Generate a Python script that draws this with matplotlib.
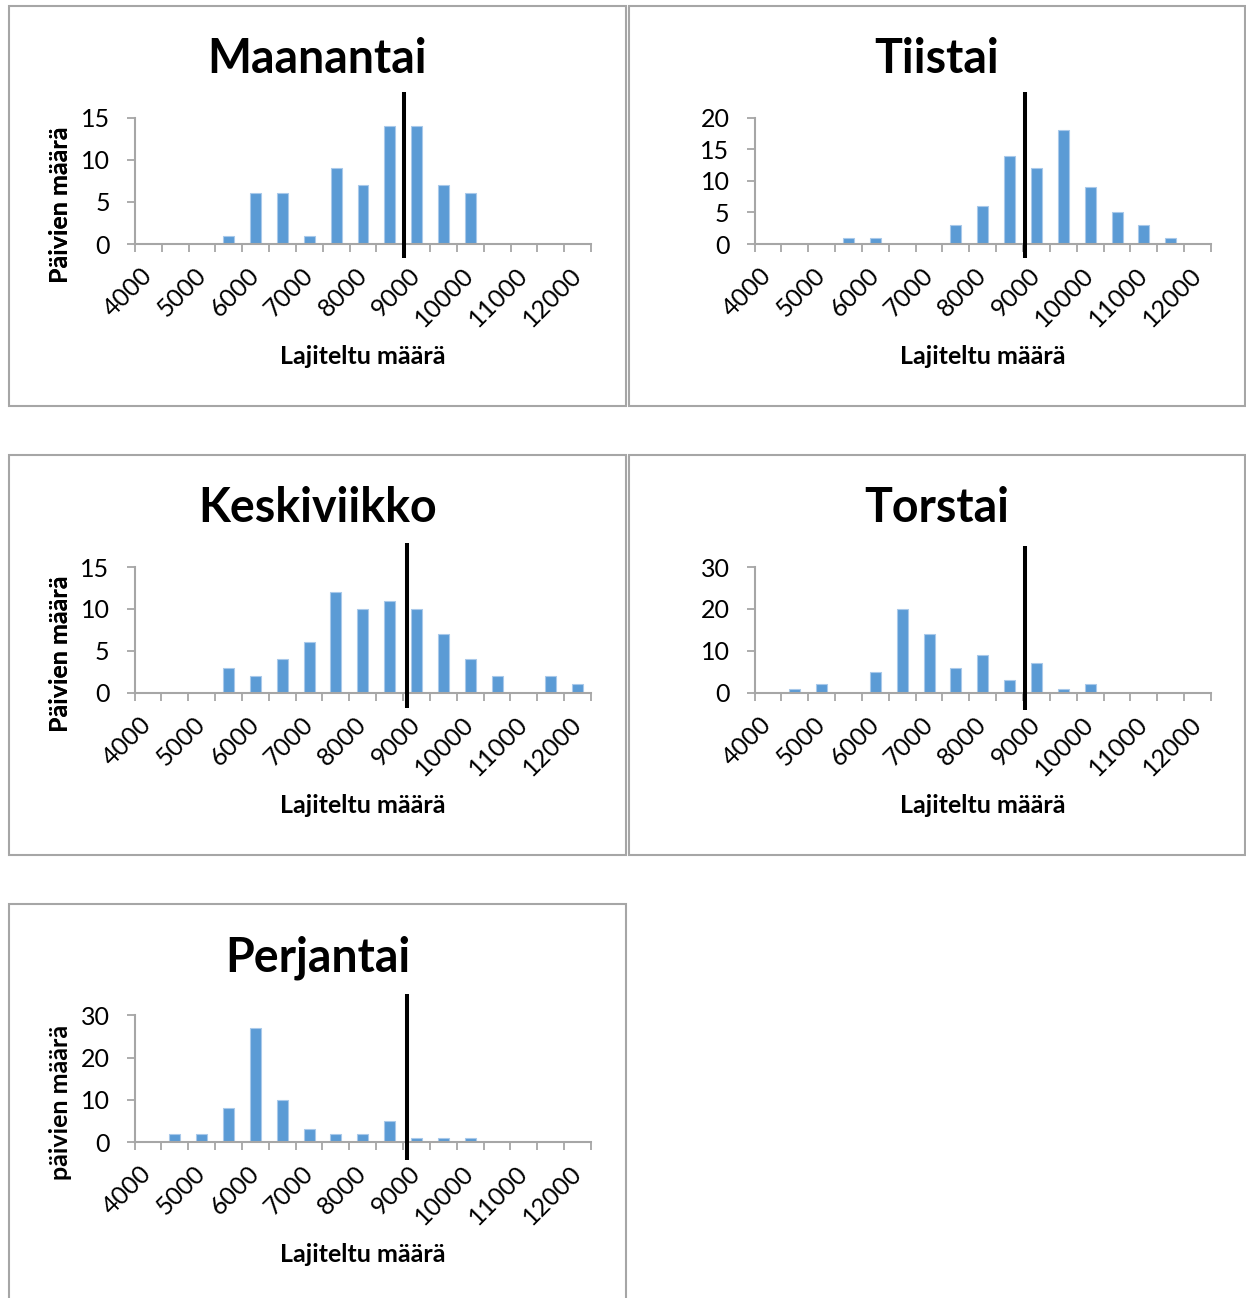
import matplotlib
matplotlib.use("Agg")
import matplotlib.pyplot as plt
from matplotlib.patches import Rectangle
import matplotlib.transforms as mtransforms

# ---------------- data ----------------
categories = [4000, 4500, 5000, 5500, 6000, 6500, 7000, 7500, 8000,
              8500, 9000, 9500, 10000, 10500, 11000, 11500, 12000]
tick_labels = ["4000", "", "5000", "", "6000", "", "7000", "", "8000",
               "", "9000", "", "10000", "", "11000", "", "12000"]

maanantai   = [0, 0, 0, 1, 6, 6, 1, 9, 7, 14, 14, 7, 6, 0, 0, 0, 0]
tiistai     = [0, 0, 0, 1, 1, 0, 0, 3, 6, 14, 12, 18, 9, 5, 3, 1, 0]
keskiviikko = [0, 0, 0, 3, 2, 4, 6, 12, 10, 11, 10, 7, 4, 2, 0, 2, 1]
torstai     = [0, 1, 2, 0, 5, 20, 14, 6, 9, 3, 7, 1, 2, 0, 0, 0, 0]
perjantai   = [0, 2, 2, 8, 27, 10, 3, 2, 2, 5, 1, 1, 1, 0, 0, 0, 0]

titles = ["Maanantai", "Tiistai", "Keskiviikko", "Torstai", "Perjantai"]
ylabels = ["Päivien määrä", "Päivien määrä", "Päivien määrä",
           "Päivien määrä", "päivien määrä"]
xlabel = "Lajiteltu määrä"
y_max = [15, 20, 15, 30, 30]
y_step = [5, 5, 5, 10, 10]
# position of the black marker line, in category units
marker_pos = [9.54, 9.58, 9.66, 9.59, 9.63]

series = [maanantai, tiistai, keskiviikko, torstai, perjantai]

# ---------------- layout (pixels) ----------------
W, H = 1246, 1298
fig = plt.figure(figsize=(W / 100, H / 100), dpi=100)
fig.patch.set_facecolor("white")

FONT = ["Lato", "DejaVu Sans"]
GRAY = "#A6A6A6"
BAR = "#5B9BD5"

frames = [(9, 6, 626, 406), (628.5, 6, 1245, 406),
          (9, 455.5, 626, 855), (628.5, 455.5, 1245, 855),
          (9, 904, 626, 1310)]
axes_px = [(135, 117.7, 591, 244), (754.5, 117.7, 1211, 244),
           (134.5, 567, 591, 692.7), (754.5, 567, 1211, 692.7),
           (134.5, 1015.3, 591, 1142)]
line_extent = [(1.20, -0.11), (1.20, -0.11), (1.19, -0.125),
               (1.17, -0.14), (1.17, -0.143)]


def fx(x):
    return x / W


def fy(y):
    return 1 - y / H


for i in range(5):
    fx0, fy0, fx1, fy1 = frames[i]
    fig.patches.append(Rectangle((fx(fx0), fy(fy1)), fx(fx1 - fx0), (fy1 - fy0) / H,
                                 transform=fig.transFigure, fill=False,
                                 edgecolor=GRAY, linewidth=1.5, zorder=0))
    ax0, ay0, ax1, ay1 = axes_px[i]
    ax = fig.add_axes([fx(ax0), fy(ay1), fx(ax1 - ax0), (ay1 - ay0) / H])
    xs = list(range(len(categories)))
    ax.bar(xs, series[i], width=0.41, color=BAR, edgecolor="#A9C9EA",
           linewidth=0.8, zorder=2)
    ax.set_xlim(-0.5, len(categories) - 0.5)
    ax.set_ylim(0, y_max[i])
    ax.set_yticks(list(range(0, y_max[i] + 1, y_step[i])))
    for s in ["top", "right"]:
        ax.spines[s].set_visible(False)
    for s in ["left", "bottom"]:
        ax.spines[s].set_color(GRAY)
        ax.spines[s].set_linewidth(1.5)
        ax.spines[s].set_zorder(3)
    ax.tick_params(axis="y", length=6, width=1.3, color=GRAY, pad=12,
                   labelsize=18)
    # category labels at centres, tick marks at boundaries
    ax.set_xticks(xs)
    ax.set_xticklabels(tick_labels, rotation=45, ha="right", va="center",
                       rotation_mode="anchor", fontsize=18, family=FONT)
    ax.tick_params(axis="x", which="major", length=0, pad=20)
    ax.set_xticks([x - 0.5 for x in range(len(categories) + 1)], minor=True)
    ax.tick_params(axis="x", which="minor", length=6, width=1.3, color=GRAY)
    for lab in ax.get_yticklabels():
        lab.set_family(FONT)
    ax.patch.set_alpha(0)

    # marker line
    trans = mtransforms.blended_transform_factory(ax.transData, ax.transAxes)
    top, bot = line_extent[i]
    ax.plot([marker_pos[i], marker_pos[i]], [bot, top], transform=trans,
            color="black", linewidth=2.9, clip_on=False, zorder=5,
            solid_capstyle="butt")

    # title
    cx = (fx0 + fx1) / 2
    fig.text(fx(cx), fy(fy0 + 67), titles[i], ha="center", va="baseline",
             fontsize=33.5, fontweight="bold", family=FONT)
    # y label
    fig.text(fx(61), fy((ay0 + ay1) / 2 + 24), ylabels[i], rotation=90,
             ha="center", va="center", fontsize=18, fontweight="bold",
             family=FONT)
    # x label
    fig.text(fx((ax0 + ax1) / 2), fy(ay1 + 113), xlabel, ha="center",
             va="center", fontsize=18, fontweight="bold", family=FONT)

fig.savefig("out.png", dpi=100, facecolor="white")
